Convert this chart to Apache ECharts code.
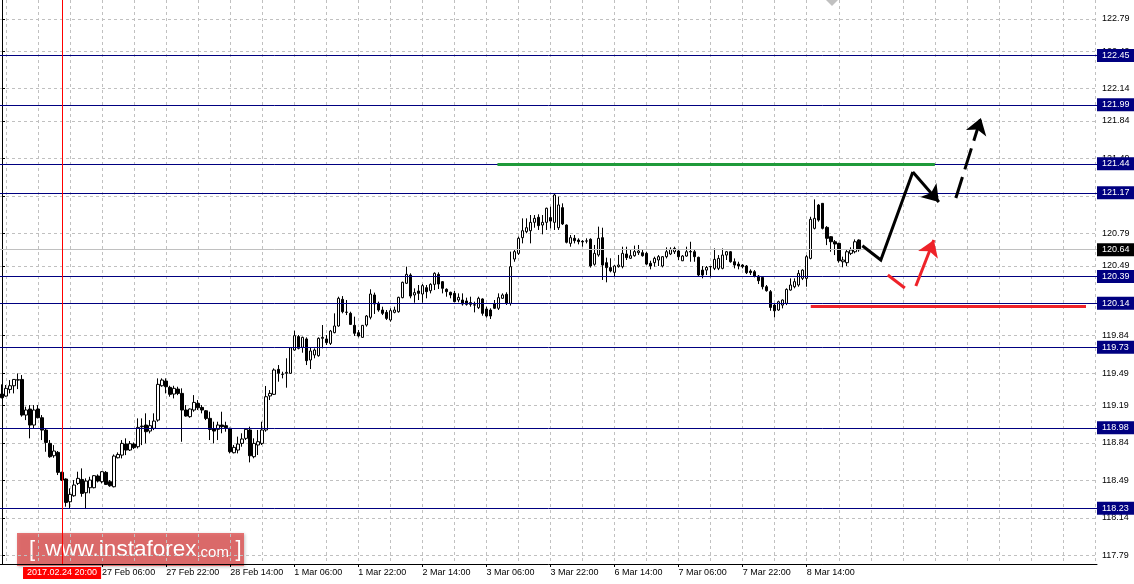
<!DOCTYPE html>
<html><head><meta charset="utf-8">
<script src="https://cdn.jsdelivr.net/npm/echarts@6/dist/echarts.min.js"></script>
<style>html,body{margin:0;padding:0;background:#fff}#c{width:1134px;height:584px}</style>
</head><body><div id="c"></div>
<script>
// ---------- data (H1 bars) ----------
const opens = [119.295,119.276,119.338,119.372,119.428,119.431,119.099,119.155,119.006,119.155,
119.074,118.959,118.835,118.720,118.751,118.565,118.503,118.291,118.347,118.462,
118.499,118.375,118.422,118.422,118.531,118.478,118.565,118.478,118.431,118.701,
118.726,118.829,118.773,118.829,118.804,118.996,119.006,118.950,118.975,119.052,
119.372,119.416,119.357,119.295,119.341,119.301,119.146,119.084,119.146,119.208,
119.170,119.139,119.068,118.968,118.966,119.006,119.000,118.975,118.748,118.773,
118.835,118.882,118.960,118.711,118.820,118.835,118.960,119.277,119.292,119.525,
119.480,119.488,119.488,119.705,119.830,119.730,119.808,119.612,119.659,119.652,
119.814,119.808,119.767,119.867,119.929,120.177,120.058,120.047,119.935,119.867,
119.823,119.938,120.010,120.218,120.140,120.078,120.056,119.985,120.056,120.062,
120.193,120.327,120.404,120.218,120.255,120.227,120.286,120.258,120.317,120.410,
120.342,120.271,120.243,120.233,120.171,120.171,120.162,120.147,120.126,120.100,
120.181,120.087,120.078,120.137,120.094,120.187,120.224,120.140,120.553,120.606,
120.752,120.808,120.817,120.895,120.942,120.870,120.895,120.939,120.895,120.845,
121.032,120.870,120.699,120.746,120.730,120.718,120.722,120.737,120.504,120.591,
120.752,120.519,120.473,120.429,120.482,120.482,120.600,120.560,120.584,120.612,
120.612,120.606,120.513,120.519,120.544,120.488,120.575,120.600,120.621,120.628,
120.537,120.581,120.623,120.621,120.569,120.450,120.450,120.483,120.466,120.466,
120.466,120.590,120.621,120.528,120.506,120.497,120.488,120.441,120.435,120.394,
120.382,120.295,120.249,120.124,120.078,120.124,120.140,120.264,120.295,120.311,
120.373,120.373,120.559,120.839,121.056,121.072,120.848,120.761,120.714,120.699,
120.528,120.519,120.606,120.621,120.730];
const highs = [119.385,119.379,119.425,119.435,119.487,119.472,119.177,119.192,119.192,119.192,
119.099,118.975,118.866,118.819,118.764,118.571,118.509,118.416,118.493,118.571,
118.602,118.509,118.524,118.540,118.546,118.577,118.577,118.493,118.732,118.751,
118.866,118.882,118.857,118.844,119.068,119.068,119.115,119.052,119.115,119.441,
119.441,119.441,119.372,119.372,119.363,119.348,119.192,119.161,119.285,119.239,
119.192,119.146,119.130,119.037,119.037,119.130,119.037,118.981,118.820,118.898,
118.929,118.975,118.991,118.882,118.960,119.037,119.370,119.332,119.534,119.565,
119.503,119.628,119.730,119.885,119.845,119.830,119.823,119.730,119.721,119.823,
119.938,119.845,119.892,120.047,120.202,120.208,120.171,120.062,120.016,119.892,
119.938,120.031,120.271,120.240,120.156,120.109,120.078,120.094,120.109,120.202,
120.342,120.482,120.420,120.280,120.311,120.320,120.311,120.327,120.429,120.429,
120.348,120.280,120.249,120.255,120.233,120.233,120.193,120.202,120.156,120.202,
120.187,120.109,120.094,120.171,120.233,120.233,120.243,120.622,120.637,120.762,
120.932,120.932,120.963,120.963,120.970,120.963,121.032,121.041,121.165,121.134,
121.072,120.876,120.777,120.777,120.746,120.730,120.746,120.746,120.684,120.855,
120.845,120.566,120.560,120.497,120.591,120.668,120.668,120.637,120.678,120.684,
120.637,120.621,120.537,120.575,120.590,120.581,120.662,120.662,120.668,120.637,
120.590,120.668,120.714,120.637,120.575,120.488,120.488,120.488,120.652,120.590,
120.652,120.628,120.628,120.559,120.528,120.506,120.497,120.457,120.450,120.404,
120.388,120.311,120.264,120.140,120.165,120.177,120.280,120.373,120.373,120.450,
120.457,120.590,120.947,121.109,121.066,121.072,120.860,120.767,120.730,120.705,
120.575,120.637,120.662,120.736,120.736];
const lows = [119.255,119.270,119.301,119.301,119.341,119.084,119.052,118.882,118.975,119.068,
118.866,118.757,118.701,118.701,118.540,118.484,118.245,118.229,118.338,118.447,
118.338,118.223,118.369,118.416,118.471,118.462,118.447,118.431,118.425,118.695,
118.695,118.726,118.764,118.782,118.788,118.819,118.835,118.928,118.959,119.037,
119.363,119.301,119.270,119.254,119.285,118.850,119.084,119.074,119.130,119.146,
119.115,119.052,118.866,118.835,118.866,118.929,118.944,118.742,118.742,118.742,
118.804,118.866,118.658,118.696,118.727,118.820,118.944,119.239,119.286,119.410,
119.441,119.354,119.482,119.699,119.711,119.680,119.565,119.528,119.628,119.643,
119.721,119.752,119.752,119.861,119.923,120.047,120.031,119.938,119.836,119.823,
119.820,119.923,119.991,120.041,120.062,120.031,119.985,119.969,120.047,120.053,
120.187,120.320,120.187,120.146,120.171,120.146,120.187,120.233,120.264,120.274,
120.233,120.202,120.187,120.150,120.150,120.119,120.119,120.109,120.056,120.087,
120.025,120.007,119.994,120.087,120.078,120.181,120.125,120.119,120.528,120.591,
120.699,120.793,120.699,120.845,120.824,120.783,120.824,120.839,120.824,120.824,
120.870,120.699,120.668,120.699,120.690,120.668,120.699,120.473,120.491,120.575,
120.358,120.336,120.429,120.389,120.473,120.466,120.544,120.553,120.575,120.591,
120.575,120.497,120.457,120.482,120.488,120.475,120.559,120.590,120.600,120.544,
120.534,120.575,120.528,120.528,120.394,120.373,120.404,120.382,120.450,120.450,
120.457,120.544,120.519,120.466,120.457,120.466,120.413,120.404,120.382,120.320,
120.270,120.249,120.071,120.009,120.071,120.093,120.124,120.258,120.280,120.295,
120.357,120.295,120.550,120.829,120.901,120.829,120.683,120.621,120.590,120.519,
120.476,120.488,120.590,120.606,120.621];
const closes = [119.261,119.348,119.372,119.431,119.425,119.099,119.146,119.006,119.146,119.074,
118.959,118.844,118.711,118.764,118.565,118.493,118.285,118.360,118.447,118.509,
118.369,118.484,118.493,118.534,118.484,118.571,118.453,118.440,118.717,118.732,
118.835,118.773,118.832,118.795,118.984,118.990,118.944,119.000,119.043,119.385,
119.425,119.363,119.292,119.348,119.301,119.146,119.090,119.155,119.217,119.167,
119.146,119.068,118.965,118.950,119.006,118.991,118.981,118.758,118.798,118.829,
118.876,118.966,118.720,118.835,118.851,118.960,119.270,119.301,119.519,119.488,
119.478,119.497,119.727,119.839,119.721,119.823,119.606,119.696,119.705,119.814,
119.823,119.774,119.882,119.929,120.187,120.062,120.056,119.944,119.861,119.836,
119.935,120.022,120.227,120.134,120.078,120.047,120.000,120.072,120.078,120.196,
120.336,120.410,120.208,120.240,120.233,120.305,120.249,120.317,120.420,120.320,
120.280,120.249,120.218,120.156,120.196,120.134,120.131,120.131,120.124,120.187,
120.047,120.022,120.022,120.094,120.193,120.218,120.140,120.482,120.622,120.746,
120.817,120.845,120.895,120.932,120.864,120.895,121.026,120.907,121.150,121.057,
120.880,120.709,120.752,120.724,120.715,120.712,120.720,120.488,120.606,120.746,
120.497,120.473,120.442,120.488,120.497,120.606,120.566,120.584,120.622,120.628,
120.584,120.506,120.488,120.559,120.575,120.575,120.621,120.643,120.652,120.575,
120.581,120.621,120.619,120.575,120.404,120.404,120.475,120.481,120.550,120.559,
120.590,120.621,120.528,120.497,120.488,120.482,120.426,120.426,120.394,120.351,
120.295,120.258,120.102,120.071,120.155,120.171,120.270,120.311,120.342,120.419,
120.450,120.575,120.923,120.932,120.916,120.839,120.746,120.714,120.693,120.537,
120.544,120.621,120.637,120.714,120.640];

const priceTicks = [117.79,118.14,118.49,118.84,119.19,119.49,119.84,120.14,120.49,120.79,121.14,121.49,121.84,122.14,122.49,122.79];
const levelPrices = [122.45,121.99,121.44,121.17,120.39,120.14,119.73,118.98,118.23];
const bidPrice = 120.64;
const firstBarUTC = [2017,1,24,5];   // 24 Feb 2017 05:00, hourly bars, no weekends
const slotCount = 274;               // bars + empty right margin
const timeLabelFirst = 25, timeLabelStep = 16, timeLabelLast = 214;
const vGridTicks = [1,9,17,25,33,41,49,57,65,73,81,89,97,105,113,121,129,137,145,153,161,169,177,185,193,201,209,217,225,233,241,249,257,265,273];
const crossBar = 15, crossText = '2017.02.24 20:00';
// drawn objects, in (bar index, price)
const greenSeg = [[123.75,121.435],[233,121.435]];
const redSeg = [[202,120.11],[270.75,120.11]];
const blackPath = [[214.9,120.677],[219.5,120.544],[227.5,121.364]];
const blackArrow1 = [[227.5,121.364],[234,121.084]];
const blackArrow2 = [[238.25,121.122],[244.5,121.867]];
const redShort = [[221.25,120.404],[225.5,120.283]];
const redArrow = [[228.25,120.302],[232.75,120.730]];

// ---------- categories ----------
const MON=['Jan','Feb','Mar','Apr','May','Jun','Jul','Aug','Sep','Oct','Nov','Dec'];
const cats=[]; let t=Date.UTC(...firstBarUTC);
while(cats.length<slotCount){const d=new Date(t);const wd=d.getUTCDay();
  if(wd!==0&&wd!==6){cats.push(d.getUTCDate()+' '+MON[d.getUTCMonth()]+' '+String(d.getUTCHours()).padStart(2,'0')+':00');}
  t+=3600000;}
const kdata = opens.map((o,i)=>[o,closes[i],lows[i],highs[i]]);
const showLbl = (i)=> i>=timeLabelFirst && i<=timeLabelLast && (i-timeLabelFirst)%timeLabelStep===0;

const FONT = "'Liberation Sans', Arial, sans-serif";
const levelLines = levelPrices.map(v=>({yAxis:v,lineStyle:{color:'#000080',width:1,type:'solid'},
  label:{formatter:v.toFixed(2),backgroundColor:'#000080',color:'#fff'}}));
levelLines.push({yAxis:bidPrice,lineStyle:{color:'#c0c0c0',width:1,type:'solid'},
  label:{formatter:bidPrice.toFixed(2),backgroundColor:'#000',color:'#fff'}});

const RED='#ee2229';
const chart = echarts.init(document.getElementById('c'),null,{renderer:'canvas'});
chart.setOption({
  animation:false,
  backgroundColor:'#fff',
  grid:{left:0,right:37,top:0,bottom:20,containLabel:false},
  xAxis:[{type:'category',data:cats,boundaryGap:true,
      axisLine:{show:true,lineStyle:{color:'#000',width:1}},
      axisTick:{show:true,interval:showLbl,alignWithLabel:true,length:3,lineStyle:{color:'#000'}},
      axisLabel:{interval:showLbl,align:'left',margin:4,fontSize:9,color:'#000',fontFamily:FONT},
      splitLine:{show:false}},
    {type:'value',min:-0.5,max:slotCount-0.5,position:'bottom',
      axisLine:{show:false},axisLabel:{show:false},
      axisTick:{show:false,customValues:vGridTicks},
      splitLine:{show:true,lineStyle:{color:'#c0c0c0',type:[3,3],width:1}}}],
  yAxis:{type:'value',position:'right',min:117.711,max:122.967,scale:true,
    axisLine:{show:true,lineStyle:{color:'#000',width:1}},
    axisTick:{show:true,customValues:priceTicks,length:3,lineStyle:{color:'#000'}},
    axisLabel:{customValues:priceTicks,formatter:v=>v.toFixed(2),margin:5,fontSize:9,color:'#000',fontFamily:FONT},
    splitLine:{show:true,lineStyle:{color:'#c0c0c0',type:[3,3],width:1}}},
  series:[
    {type:'candlestick',data:kdata,barWidth:3,xAxisIndex:0,
      itemStyle:{color:'#fff',color0:'#000',borderColor:'#000',borderColor0:'#000',borderColorDoji:'#000',borderWidth:1},
      markLine:{silent:true,symbol:'none',animation:false,
        label:{position:'end',distance:0,fontSize:9,fontFamily:FONT,padding:[2,6,1,5],lineHeight:10},
        data:levelLines.concat([{xAxis:cats[crossBar],lineStyle:{color:'#ff0000',width:1,type:'solid'},
          label:{position:'start',formatter:crossText,backgroundColor:'#ff0000',color:'#fff',distance:3,padding:[1,4,1,4]}}])}},
    {type:'lines',coordinateSystem:'cartesian2d',xAxisIndex:1,polyline:true,silent:true,z:5,symbol:'none',
      data:[{coords:greenSeg,lineStyle:{color:'#1f9a3a',width:3,opacity:1}},
            {coords:redSeg,lineStyle:{color:RED,width:3,opacity:1}},
            {coords:blackPath,lineStyle:{color:'#000',width:3,opacity:1}},
            {coords:redShort,lineStyle:{color:RED,width:3,opacity:1}}]},
    {type:'lines',coordinateSystem:'cartesian2d',xAxisIndex:1,silent:true,z:6,
      symbol:['none','arrow'],symbolSize:[12,16],
      data:[{coords:blackArrow1,lineStyle:{color:'#000',width:3,opacity:1}},
            {coords:blackArrow2,lineStyle:{color:'#000',width:3,opacity:1,type:[22,8]}},
            {coords:redArrow,lineStyle:{color:RED,width:3,opacity:1}}]}
  ],
  graphic:[
    {type:'polygon',shape:{points:[[826,0],[838,0],[832,6]]},style:{fill:'#c0c0c0'},z:10},
    {type:'group',left:17,top:533,z:20,children:[
      {type:'rect',shape:{x:0,y:0,width:227,height:33},style:{fill:'rgba(224,80,80,0.78)',shadowColor:'rgba(0,0,0,0.3)',shadowBlur:3,shadowOffsetX:1,shadowOffsetY:1}},
      {type:'text',x:12,y:17,style:{text:'{a|[}   {b|www.instaforex}{c|.com}  {a|]}',verticalAlign:'middle',fill:'#fff',
        rich:{a:{fontSize:22,fill:'#fff',fontFamily:FONT},b:{fontSize:22.5,fill:'#fff',fontFamily:FONT},c:{fontSize:15,fill:'#fff',fontFamily:FONT,padding:[6,0,0,0]}}}}
    ]}
  ]
});
</script></body></html>
